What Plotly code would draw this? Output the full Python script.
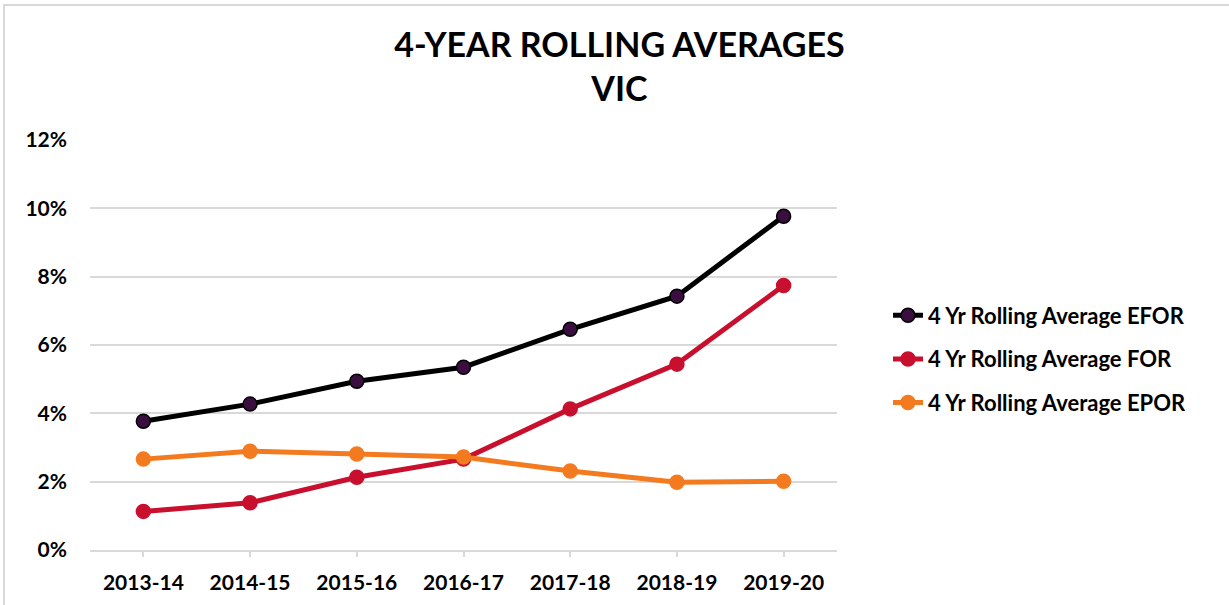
import plotly.graph_objects as go

categories = ["2013-14", "2014-15", "2015-16", "2016-17", "2017-18", "2018-19", "2019-20"]
efor = [3.77, 4.27, 4.94, 5.35, 6.46, 7.43, 9.77]
for_vals = [1.13, 1.38, 2.13, 2.66, 4.13, 5.44, 7.74]
epor = [2.66, 2.89, 2.81, 2.72, 2.31, 1.98, 2.01]
y_ticks = [0, 2, 4, 6, 8, 10, 12]
y_tick_labels = ["0%", "2%", "4%", "6%", "8%", "10%", "12%"]

FONT = "Lato"
W, H = 1229, 605
ML, MR, MT, MB = 90, 392, 140, 55
PW, PH = W - ML - MR, H - MT - MB

fig = go.Figure()
series = [
    ("4 Yr Rolling Average EFOR", efor, "#000000", "#3a0f3f", "#000000"),
    ("4 Yr Rolling Average FOR", for_vals, "#c8102e", "#c8102e", "#c8102e"),
    ("4 Yr Rolling Average EPOR", epor, "#f47a20", "#f47a20", "#f47a20"),
]
for i, (name, vals, lc, mc, mlc) in enumerate(series):
    fig.add_trace(go.Scatter(
        x=categories, y=vals, name=name, mode="lines+markers", legendgroup=f"g{i}",
        line=dict(color=lc, width=5),
        marker=dict(size=14, color=mc, line=dict(color=mlc, width=1.5)),
    ))

fig.update_layout(
    width=W, height=H,
    paper_bgcolor="white", plot_bgcolor="white",
    margin=dict(l=ML, r=MR, t=MT, b=MB, autoexpand=False),
    title=dict(text="4-YEAR ROLLING AVERAGES<br>VIC", x=0.504, xanchor="center",
               yref="container", y=0.906, yanchor="top",
               font=dict(family=FONT, size=34, color="#000000", weight="bold")),
    font=dict(family=FONT, color="#000000"),
    showlegend=True,
    legend=dict(x=(888 - ML) / PW, y=(550 - 359) / PH, xanchor="left", yanchor="middle",
                font=dict(family=FONT, size=22, color="#000000", weight="bold"),
                tracegroupgap=12, bgcolor="rgba(0,0,0,0)"),
    xaxis=dict(type="category", showgrid=False, showline=True, linecolor="#d9d9d9",
               linewidth=1.5, ticks="outside", ticklen=5, tickcolor="#d9d9d9", tickwidth=1.5,
               ticklabelstandoff=8,
               tickfont=dict(family=FONT, size=21, color="#000000", weight="bold"),
               range=[-0.5, 6.5], zeroline=False),
    yaxis=dict(range=[0, 12], tickvals=y_ticks, ticktext=y_tick_labels,
               showgrid=True, gridcolor="#d9d9d9", gridwidth=1.5, zeroline=False,
               showline=False, ticks="", ticklabelstandoff=22,
               tickfont=dict(family=FONT, size=21, color="#000000", weight="bold")),
)

# outer chart border (top and left edges)
fig.add_shape(type="line", xref="paper", yref="paper",
              x0=(3 - ML) / PW, x1=(W - ML) / PW, y0=(550 - 5) / PH, y1=(550 - 5) / PH,
              line=dict(color="#d9d9d9", width=2), layer="above")
fig.add_shape(type="line", xref="paper", yref="paper",
              x0=(4 - ML) / PW, x1=(4 - ML) / PW, y0=(550 - 5) / PH, y1=(550 - H) / PH,
              line=dict(color="#d9d9d9", width=2), layer="above")

fig.write_html("out.html", config={"displayModeBar": False},
               post_script="document.body.style.margin='0';document.body.style.overflow='hidden';")
